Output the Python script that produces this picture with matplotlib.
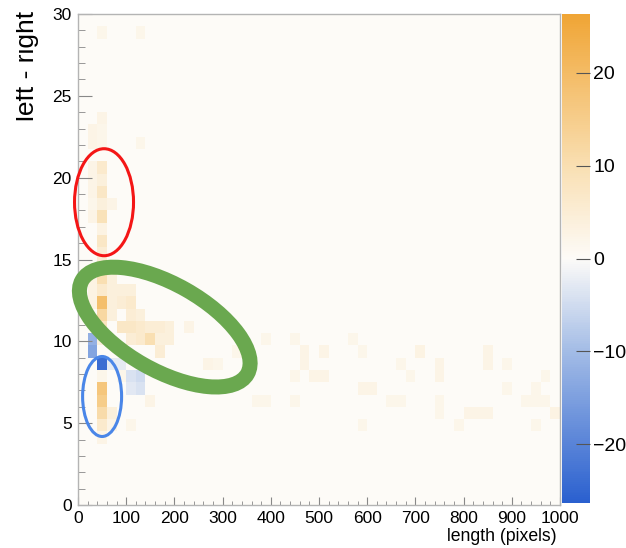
"""
Left-right asymmetry vs. track length, 2D histogram with highlighted regions.
"""

import numpy as np
import matplotlib
matplotlib.use('Agg')
import matplotlib.pyplot as plt
from matplotlib.colors import LinearSegmentedColormap
from matplotlib.patches import Ellipse
from matplotlib.transforms import ScaledTranslation, Bbox, TransformedBbox

plt.rcParams.update({
    'font.family': ['Liberation Sans', 'DejaVu Sans'],
    'font.size': 12.5,
})

# binning of the histogram
x_edges = np.arange(0, 1001, 20)
y_edges = np.linspace(0, 30, 41)

# filled cells: bin centre in length, bin centre in left-right, content
cell_length = [
    50, 50, 50, 50, 50, 50, 50, 50, 50, 50, 50, 50, 50,
    50, 50, 50, 50, 50, 50, 50, 50, 50, 50, 50, 50, 50,
    30, 30, 30, 30, 30, 30, 30, 30, 30, 30, 30, 30,
    70, 70, 70, 70, 70, 70, 70, 70,
    90, 90, 90, 90, 90,
    110, 110, 110, 110, 110, 110, 110, 110,
    130, 130, 130, 130, 130, 130, 130,
    150, 150, 150, 170, 170, 170, 190, 190,
    230, 270, 290, 330, 370, 390, 390, 450, 450, 450,
    470, 470, 490, 510, 510, 570, 590, 590, 590, 610,
    650, 670, 670, 690, 710, 750, 750, 750, 750, 790,
    810, 830, 850, 850, 850, 890, 890, 930, 950, 950, 950,
    970, 970, 990,
]
cell_lr = [
    28.875, 23.625, 22.875, 22.125, 20.625, 19.875, 19.125, 18.375, 17.625,
    16.875, 16.125, 15.375, 14.625, 13.875, 13.125, 12.375, 11.625, 10.875,
    10.125, 8.625, 7.875, 7.125, 6.375, 5.625, 4.875, 4.125,
    22.875, 22.125, 20.625, 19.875, 19.125, 18.375, 17.625, 13.875, 13.125,
    12.375, 10.125, 9.375,
    18.375, 13.875, 13.125, 12.375, 11.625, 8.625, 5.625, 4.875,
    13.125, 12.375, 10.875, 8.625, 7.875,
    13.125, 12.375, 11.625, 10.875, 10.125, 7.875, 7.125, 4.875,
    28.875, 22.125, 11.625, 10.875, 10.125, 7.875, 7.125,
    10.875, 10.125, 6.375, 10.875, 10.125, 9.375, 10.875, 10.125,
    10.875, 8.625, 8.625, 9.375, 6.375, 10.125, 6.375, 10.125, 7.875, 6.375,
    9.375, 8.625, 7.875, 9.375, 7.875, 10.125, 9.375, 7.125, 4.875, 7.125,
    6.375, 8.625, 6.375, 7.875, 9.375, 8.625, 7.875, 6.375, 5.625, 4.875,
    5.625, 5.625, 9.375, 8.625, 5.625, 8.625, 7.125, 6.375, 7.125, 6.375, 4.875,
    7.875, 6.375, 5.625,
]
cell_value = [
    2, 2.5, 2, 2, 6, 4, 7, 4, 9, 3, 7, 5, 5, 10, 6, 19, 12, 8,
    4, -24, 2, 17, 15, 11, 6, 2.5,
    2.5, 2.5, 2.5, 2.5, 2.5, 2, 2.5, 3, 3, 3, -12, -14,
    2.5, 4, 4, 4, 4, -2.5, 4, 2.5,
    4, 5, 7, -2.5, 2,
    4, 6, 5, 7, 5, -4, -3, 2,
    2, 2, 4, 6, 6, -5, -4,
    5, 10, 2.5, 5, 4, 5, 4, 4,
    2.5, 2.5, 2, 2, 2, 2, 2, 2, 2, 2,
    2.5, 2.5, 2.5, 2.5, 2.5, 2, 2, 2.5, 2, 2.5,
    2, 2, 2, 2, 3, 2.5, 2.5, 2, 2, 2,
    2.5, 2.5, 2.5, 2.5, 2.5, 2, 2, 2, 2, 2, 2,
    2, 2, 3,
]
z_range = 26.3

# highlighted regions: centre (length, left-right), size in pixels, angle
regions = [
    dict(center=(54, 18.5), w=59, h=107, angle=0, color='#f41616', lw=2.2),
    dict(center=(50, 6.63), w=39, h=80, angle=0, color='#4a86e8', lw=2.2),
    dict(center=(180, 10.87), w=190, h=86, angle=-29.5, color='#6aa84f', lw=10.8),
]

cmap = LinearSegmentedColormap.from_list('bwo', [
    (0.0, '#2a60cf'),
    (0.31, '#a3bce6'),
    (0.5, '#fdfbf8'),
    (0.69, '#f9dfb2'),
    (1.0, '#f0a535'),
], N=256)

W, H = 626, 548
fig = plt.figure(figsize=(W / 100, H / 100), dpi=100)
ax = fig.add_axes([78 / W, 43 / H, 482 / W, 491 / H])
cax = fig.add_axes([562 / W, 45 / H, 28 / W, 489 / H])

_, _, _, im = ax.hist2d(cell_length, cell_lr, bins=[x_edges, y_edges],
                        weights=cell_value, cmap=cmap,
                        vmin=-z_range, vmax=z_range)
ax.set_facecolor('#fdfbf8')
ax.set_xlim(0, 1000)
ax.set_ylim(0, 30)

ax.set_xticks(np.arange(0, 1001, 100))
ax.set_xticks(np.arange(0, 1001, 20), minor=True)
ax.set_yticks(np.arange(0, 31, 5))
ax.set_yticks(np.arange(0, 31, 1), minor=True)
ax.tick_params(axis='x', which='major', direction='in', length=6, color='#888888',
               pad=4, labelsize=12.5)
ax.tick_params(axis='x', which='minor', direction='in', length=3, color='#888888')
ax.tick_params(axis='y', which='major', direction='in', length=10, color='#888888',
               pad=4.5, labelsize=12.5)
ax.tick_params(axis='y', which='minor', direction='in', length=5, color='#888888')
for sp in ax.spines.values():
    sp.set_color('#b4b4b4')
    sp.set_linewidth(1)

# colour scale
cb = fig.colorbar(im, cax=cax)
cb.set_ticks([-20, -10, 0, 10, 20])
cb.outline.set_visible(False)
cax.tick_params(direction='in', length=10, color='#555555', pad=2.5, labelsize=14)

# region markers, sized in pixels so they keep their shape
for r in regions:
    tr = fig.dpi_scale_trans + ScaledTranslation(r['center'][0], r['center'][1], ax.transData)
    e = Ellipse((0, 0), r['w'] / 100, r['h'] / 100, angle=r['angle'],
                transform=tr, fill=False, edgecolor=r['color'], lw=r['lw'],
                clip_on=False, zorder=5)
    ax.add_artist(e)

# axis titles (ROOT style: aligned to the axis ends)
fig.text(557 / W, 1 - 541 / H, 'length (pixels)', ha='right', va='baseline',
         fontsize=12.7)
yl = fig.text(34 / W, 1 - 11 / H, 'left - right', rotation=90,
              rotation_mode='anchor', ha='right', va='baseline', fontsize=19)
yl.set_clip_box(TransformedBbox(Bbox.from_extents(15.5 / W, 0, 1, 1), fig.transFigure))
yl.set_clip_on(True)

fig.savefig('out.png', dpi=100)
